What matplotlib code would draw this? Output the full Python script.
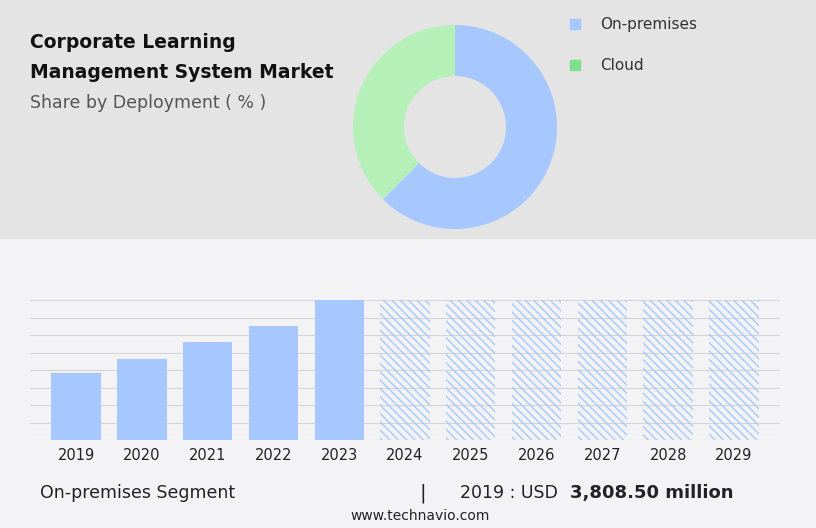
import matplotlib.pyplot as plt
import matplotlib.patches as mp

years = ['2019','2020','2021','2022','2023','2024','2025','2026','2027','2028','2029']
values = [3808.5, 4600, 5570, 6480, 7960]
forecast = [7960]*6
shares = [62.5, 37.5]
labels = ['On-premises', 'Cloud']

W, H = 816, 528
fig = plt.figure(figsize=(W/100, H/100), dpi=100)
fig.patch.set_facecolor('#f3f3f5')
fig.add_artist(mp.Rectangle((0, 1-238/H), 1, 238/H, transform=fig.transFigure, color='#e4e4e4', zorder=0))

fig.text(30/W, 1-43/H, 'Corporate Learning', fontsize=13.5, fontweight='bold', va='center', color='#111')
fig.text(30/W, 1-73/H, 'Management System Market', fontsize=13.5, fontweight='bold', va='center', color='#111')
fig.text(30/W, 1-103/H, 'Share by Deployment ( % )', fontsize=12.5, va='center', color='#555')

r = 102
ax = fig.add_axes([(455-r)/W, 1-(127+r)/H, 2*r/W, 2*r/H])
ax.pie(shares, colors=['#a6c8ff', '#b5f0b9'], startangle=90, counterclock=False,
       radius=1, wedgeprops=dict(width=0.5, edgecolor='none'))
ax.set_aspect('auto')
ax.set_xlim(-1, 1)
ax.set_ylim(-1, 1)

for i, (lab, c) in enumerate(zip(labels, ['#a6c8ff', '#7ee08c'])):
    y = 24 + 41*i
    fig.add_artist(mp.Rectangle((570/W, 1-(y+5)/H), 10/W, 10/H, transform=fig.transFigure, color=c))
    fig.text(600/W, 1-y/H, lab, fontsize=11, va='center', color='#333')

bx = fig.add_axes([30/W, 88/H, 750/W, 140/H])
bx.set_facecolor('none')
x = list(range(len(years)))
bx.bar(x[:5], values, width=0.75, color='#a6c8ff', zorder=2)
bx.bar(x[5:], forecast, width=0.75, facecolor='none', edgecolor='#a6c8ff', hatch='\\\\\\\\', linewidth=0, zorder=2)
top = max(values)
bx.set_ylim(0, top)
bx.set_xlim(-0.7, 10.7)
for k in range(9):
    bx.axhline(top*k/8, color='#d5d5d5', lw=0.8, zorder=1)
bx.set_yticks([])
bx.set_xticks(x)
bx.set_xticklabels(years, fontsize=10.5, color='#222')
bx.tick_params(axis='x', length=0, pad=6)
for s in bx.spines.values():
    s.set_visible(False)

fig.text(40/W, 1-493/H, 'On-premises Segment', fontsize=12.5, va='center', color='#222')
fig.text(420/W, 1-493/H, '|', fontsize=14, va='center', color='#222')
fig.text(460/W, 1-493/H, '2019 : USD', fontsize=12.5, va='center', color='#222')
fig.text(570/W, 1-493/H, '3,808.50 million', fontsize=13, fontweight='bold', va='center', color='#222')
fig.text(420/W, 1-516/H, 'www.technavio.com', fontsize=10, va='center', ha='center', color='#222')

fig.savefig('out.png', dpi=100, facecolor=fig.get_facecolor())
